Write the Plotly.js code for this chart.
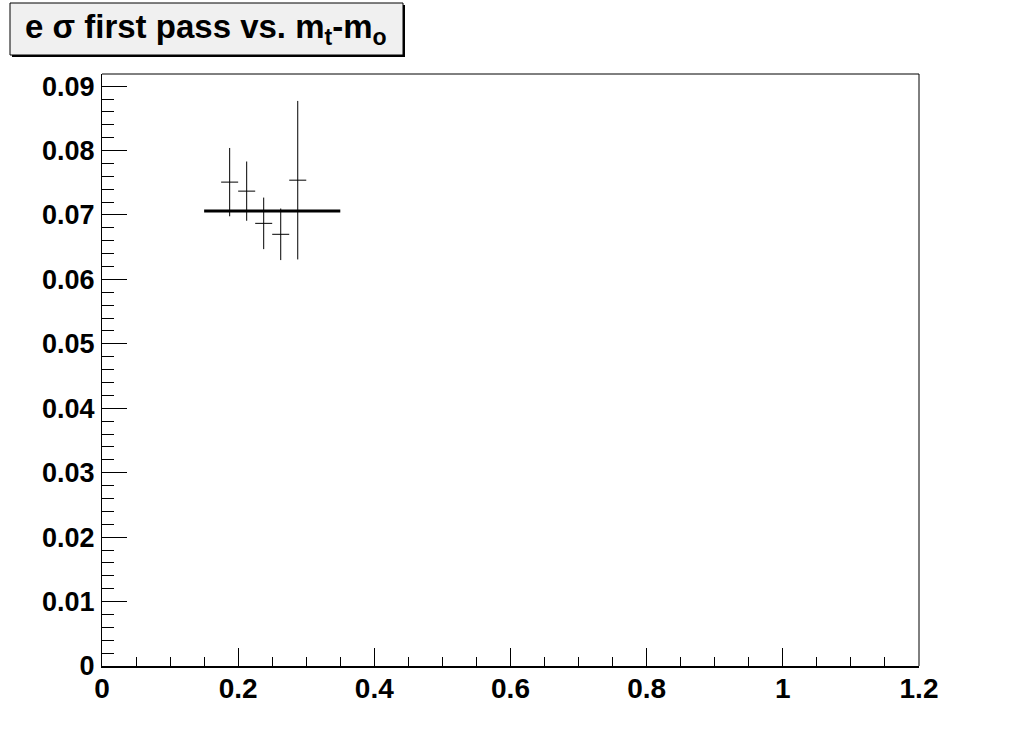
<!DOCTYPE html>
<html>
<head>
<meta charset="utf-8">
<script src="https://cdn.plot.ly/plotly-3.0.1.min.js"></script>
<style>html,body{margin:0;padding:0;background:#fff;}#plot{width:1020px;height:740px;}</style>
</head>
<body>
<div id="plot"></div>
<script>
// Data
var binCenters = [0.1875, 0.2125, 0.2375, 0.2625, 0.2875];
var binHalfWidths = [0.0125, 0.0125, 0.0125, 0.0125, 0.0125];
var values = [0.0751, 0.0737, 0.0687, 0.0670, 0.0754];
var errors = [0.0053, 0.0046, 0.0040, 0.0040, 0.0123];
var fitRangeX = [0.15, 0.35];
var fitValue = [0.0706, 0.0706];
var xTickVals = [0, 0.2, 0.4, 0.6, 0.8, 1, 1.2];
var xTickText = ['0', '0.2', '0.4', '0.6', '0.8', '1', '1.2'];
var yTickVals = [0, 0.01, 0.02, 0.03, 0.04, 0.05, 0.06, 0.07, 0.08, 0.09];
var yTickText = ['0', '0.01', '0.02', '0.03', '0.04', '0.05', '0.06', '0.07', '0.08', '0.09'];
var titleText = 'e \u03c3 first pass vs. m<sub>t</sub>-m<sub>o</sub>';

var W = 1020, H = 740;
var mL = 102, mR = 101, mT = 74, mB = 74;
var pw = W - mL - mR, ph = H - mT - mB;
function px(x) { return (x - mL) / pw; }
function py(y) { return (H - mB - y) / ph; }

var font = 'Liberation Sans, Arial, Helvetica, sans-serif';

var traces = [
  {
    x: binCenters, y: values, type: 'scatter', mode: 'markers',
    marker: {size: 1, color: 'rgba(0,0,0,0)'},
    error_y: {type: 'data', array: errors, visible: true, color: '#000', thickness: 1, width: 0},
    error_x: {type: 'data', array: binHalfWidths, visible: true, color: '#000', thickness: 1, width: 0},
    showlegend: false, hoverinfo: 'x+y'
  },
  {
    x: fitRangeX, y: fitValue, type: 'scatter', mode: 'lines',
    line: {color: '#000', width: 3}, showlegend: false
  }
];

var layout = {
  width: W, height: H,
  margin: {l: mL, r: mR, t: mT, b: mB, pad: 0},
  paper_bgcolor: '#fff', plot_bgcolor: '#fff',
  font: {family: font, color: '#000'},
  xaxis: {
    range: [0, 1.2], showgrid: false, zeroline: false,
    showline: true, linecolor: '#000', linewidth: 2,
    tickmode: 'array', tickvals: xTickVals, ticktext: xTickText,
    ticks: 'inside', ticklen: 18, tickwidth: 1, tickcolor: '#000',
    minor: {ticks: 'inside', ticklen: 9, tickwidth: 1, tickcolor: '#000', dtick: 0.05, tick0: 0, showgrid: false},
    tickfont: {family: font, size: 28, color: '#000', weight: 'bold'},
    ticklabelstandoff: -4,
    fixedrange: true
  },
  yaxis: {
    range: [0, 0.09188], showgrid: false, zeroline: false,
    showline: true, linecolor: '#000', linewidth: 1,
    tickmode: 'array', tickvals: yTickVals, ticktext: yTickText,
    ticks: 'inside', ticklen: 25, tickwidth: 1, tickcolor: '#000',
    minor: {ticks: 'inside', ticklen: 12, tickwidth: 1, tickcolor: '#000', dtick: 0.002, tick0: 0, showgrid: false},
    tickfont: {family: font, size: 27, color: '#000', weight: 'bold'},
    ticklabelstandoff: 1,
    fixedrange: true
  },
  shapes: [
    {type: 'line', xref: 'paper', yref: 'paper', x0: 0, x1: 1, y0: 1, y1: 1, line: {color: '#000', width: 1}},
    {type: 'line', xref: 'paper', yref: 'paper', x0: 1, x1: 1, y0: 0, y1: 1, line: {color: '#000', width: 1}},
    {type: 'rect', xref: 'paper', yref: 'paper', x0: px(12), x1: px(405), y0: py(57), y1: py(5),
     line: {width: 0}, fillcolor: '#000', layer: 'above'},
    {type: 'rect', xref: 'paper', yref: 'paper', x0: px(10), x1: px(403), y0: py(55), y1: py(3),
     line: {color: '#000', width: 1}, fillcolor: '#f0f0f0', layer: 'above'}
  ],
  annotations: [
    {text: titleText, xref: 'paper', yref: 'paper', x: px(206), y: py(29),
     xanchor: 'center', yanchor: 'middle', showarrow: false,
     font: {family: font, size: 33, color: '#000', weight: 'bold'}}
  ]
};

Plotly.newPlot('plot', traces, layout, {displayModeBar: false, staticPlot: true});
</script>
</body>
</html>
